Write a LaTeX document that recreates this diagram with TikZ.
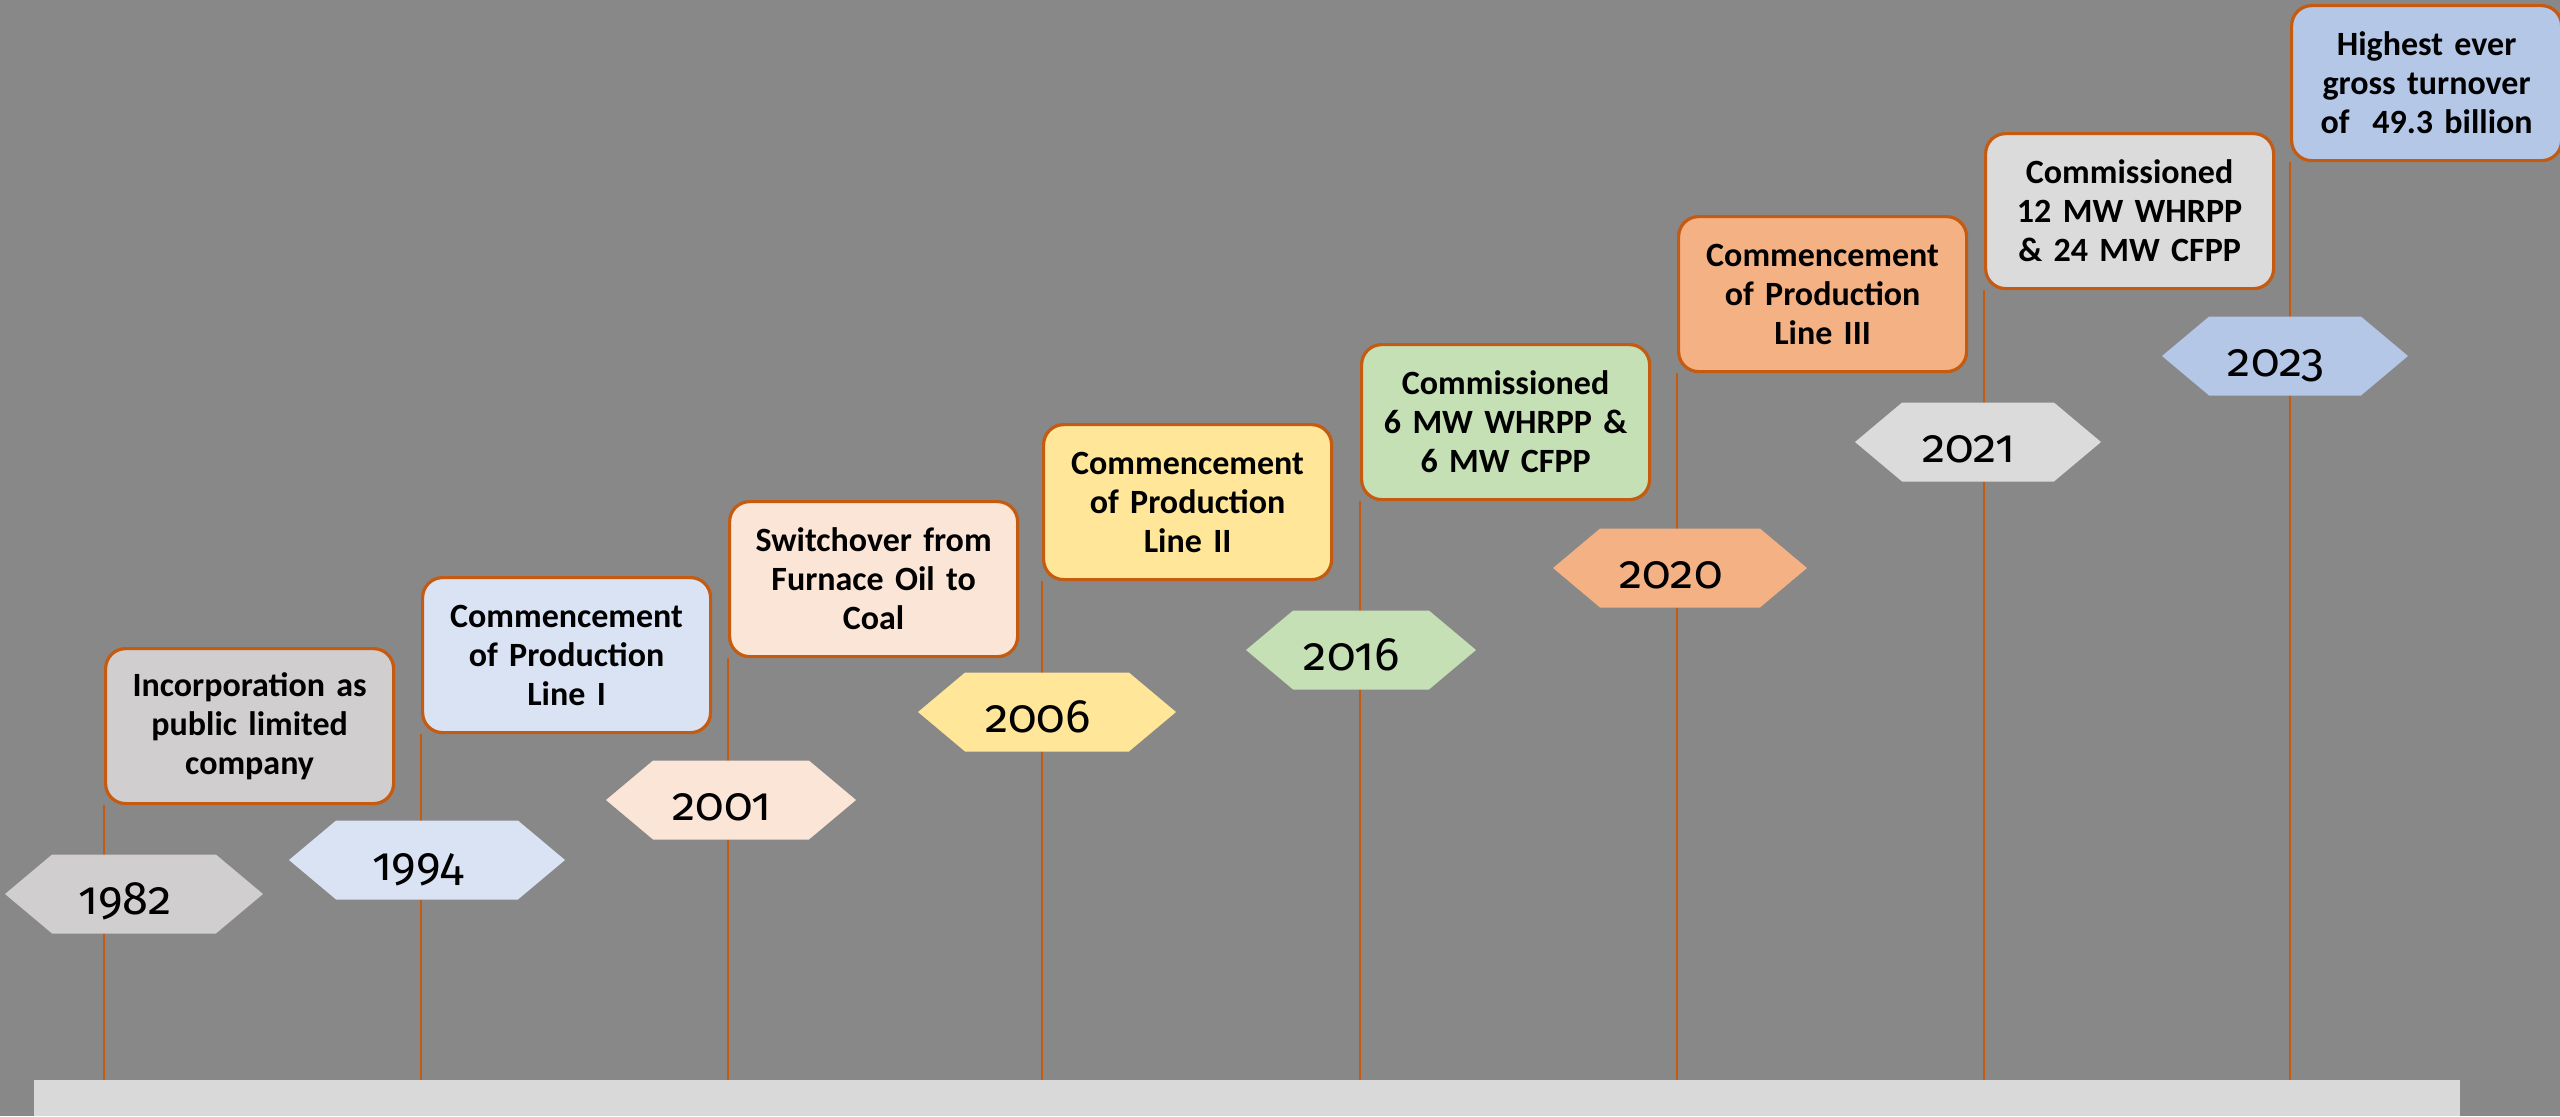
\documentclass[tikz,border=0pt]{standalone}
\usepackage{fontspec}
\setmainfont{Carlito}
\newfontfamily\yearfont[Numbers=OldStyle]{Fira Sans}
\usepackage{xcolor}
\usetikzlibrary{shapes.symbols}

\definecolor{backGray}{HTML}{888888}
\definecolor{barGray}{HTML}{D9D9D9}
\definecolor{stemOrange}{HTML}{C55A11}
\definecolor{fillA}{HTML}{D0CECE}
\definecolor{fillB}{HTML}{DAE3F3}
\definecolor{fillC}{HTML}{FBE5D6}
\definecolor{fillD}{HTML}{FFE699}
\definecolor{fillE}{HTML}{C5E0B4}
\definecolor{fillF}{HTML}{F4B183}
\definecolor{fillG}{HTML}{DBDBDB}
\definecolor{fillH}{HTML}{B4C7E7}

% year text sits a little left of and below the tag centre
\newcommand\yrlabel[1]{\hspace*{-9pt}\raisebox{-10pt}[0pt][0pt]{#1}}

\begin{document}
\begin{tikzpicture}[x=0.5pt, y=-0.5pt,
    eventbox/.style={draw=stemOrange, line width=1.6pt, rounded corners=10pt, anchor=north west,
        text width=134pt, inner xsep=5pt, inner ysep=0pt, minimum height=77.5pt, align=center,
        font=\bfseries\fontsize{17}{19.5}\selectfont},
    yearhex/.style={signal, signal to=east and west, signal pointer angle=80, draw=none,
        minimum height=39.5pt, inner sep=0pt, font=\yearfont\fontsize{23.5}{23.5}\selectfont},
    stem/.style={stemOrange, line width=0.9pt}]

    % background and bounding box
    \fill[backGray] (0,0) rectangle (2560,1116);
    \useasboundingbox (0,0) rectangle (2560,1116);

    % milestone boxes
    \node[eventbox, fill=fillA] (box1982) at (104,647) {Incorporation as\\public limited\\company};
    \node[eventbox, fill=fillB] (box1994) at (421,576) {Commencement\\of Production\\Line I};
    \node[eventbox, fill=fillC] (box2001) at (728,500) {Switchover from\\Furnace Oil to\\Coal};
    \node[eventbox, fill=fillD] (box2006) at (1042,423) {Commencement\\of Production\\Line II};
    \node[eventbox, fill=fillE] (box2016) at (1360,343) {Commissioned\\6 MW WHRPP \&\\6 MW CFPP};
    \node[eventbox, fill=fillF] (box2020) at (1677,215) {Commencement\\of Production\\Line III};
    \node[eventbox, fill=fillG] (box2021) at (1984,132) {Commissioned\\12 MW WHRPP\\\& 24 MW CFPP};
    \node[eventbox, fill=fillH, text width=125pt] (box2023) at (2290,4) {Highest ever\\gross turnover\\of\ \ 49.3 billion};

    % base bar
    \node[fill=barGray, anchor=north west, minimum width=1213pt, minimum height=18pt, inner sep=0pt] (bar) at (34,1080) {};

    % stems down to the bar
    \foreach \yr in {1982,1994,2001,2006,2016,2020,2021,2023}
        \draw[stem] (box\yr.south west) -- (box\yr.south west |- bar.north);

    % year tags
    \node[yearhex, fill=fillA, minimum width=129pt] (hex1982) at (134,894) {\yrlabel{1982}};
    \node[yearhex, fill=fillB, minimum width=138pt] (hex1994) at (427,860) {\yrlabel{1994}};
    \node[yearhex, fill=fillC, minimum width=125pt] (hex2001) at (731,800) {\yrlabel{2001}};
    \node[yearhex, fill=fillD, minimum width=129pt] (hex2006) at (1047,712) {\yrlabel{2006}};
    \node[yearhex, fill=fillE, minimum width=115pt] (hex2016) at (1361,650) {\yrlabel{2016}};
    \node[yearhex, fill=fillF, minimum width=127pt] (hex2020) at (1680,568) {\yrlabel{2020}};
    \node[yearhex, fill=fillG, minimum width=123pt] (hex2021) at (1978,442) {\yrlabel{2021}};
    \node[yearhex, fill=fillH, minimum width=123pt] (hex2023) at (2285,356) {\yrlabel{2023}};
\end{tikzpicture}
\end{document}
